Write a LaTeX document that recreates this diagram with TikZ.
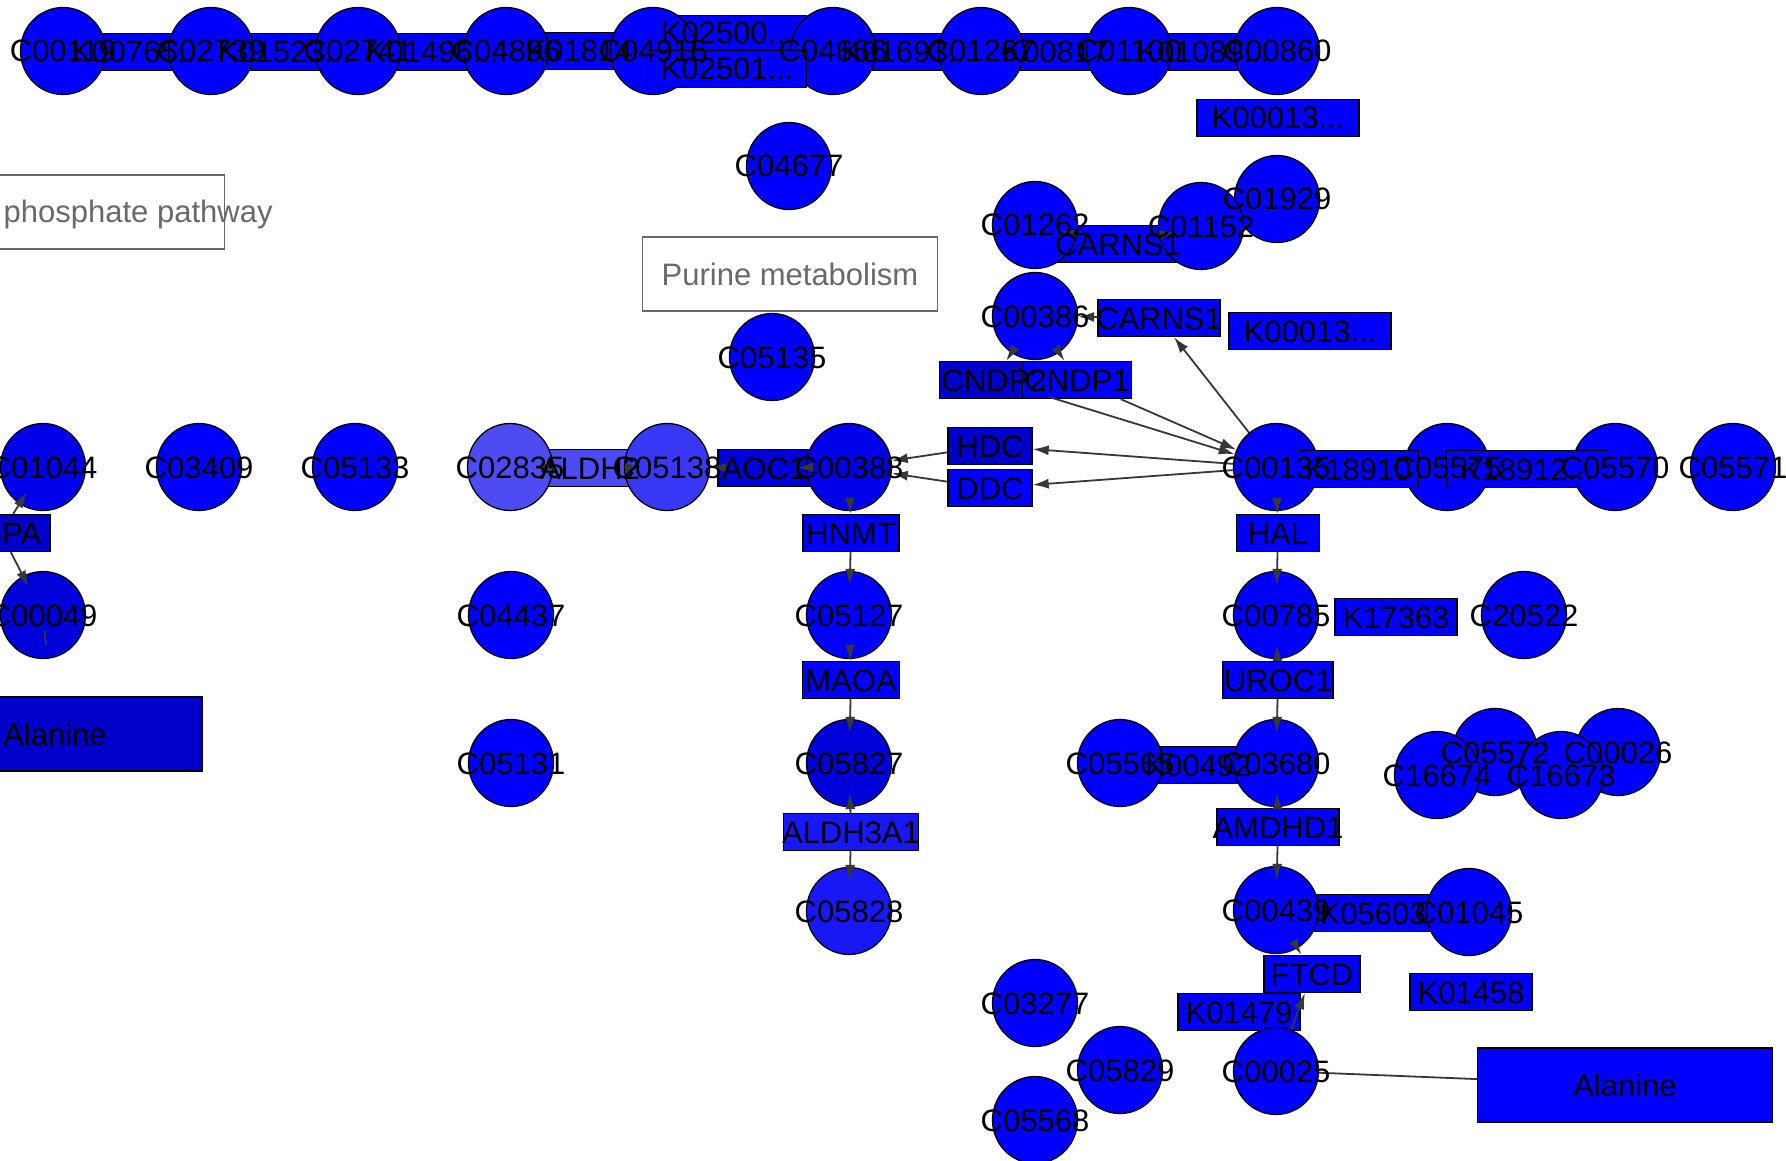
\documentclass[tikz,border=0pt]{standalone}
\usepackage{fontspec}
\setmainfont{Liberation Sans}
\usetikzlibrary{shapes.geometric,arrows.meta}

\definecolor{kblue}{RGB}{0,0,255}
\definecolor{kblueA}{RGB}{0,0,234}
\definecolor{kblueB}{RGB}{0,0,216}
\definecolor{kblueC}{RGB}{0,0,202}
\definecolor{klightA}{RGB}{76,76,242}
\definecolor{klightB}{RGB}{56,56,246}
\definecolor{klightC}{RGB}{24,24,246}
\definecolor{edgegray}{RGB}{55,55,55}
\definecolor{mapgray}{RGB}{105,105,105}

\newcommand{\kdots}{...}

\tikzset{
  cpd/.style={ellipse, draw=black, line width=1.3pt, fill=kblue,
    minimum width=85, minimum height=87, inner sep=0pt},
  gene/.style={rectangle, draw=black, line width=1.3pt, fill=kblue,
    minimum height=37, inner sep=0pt},
  mapbox/.style={rectangle, draw=mapgray, line width=1.4pt, fill=white,
    minimum width=295, minimum height=74, inner sep=0pt},
  lbl/.style={font=\fontsize{31}{31}\selectfont, inner sep=0pt,
    text height=22pt, text depth=0pt},
  edge/.style={draw=edgegray, line width=1.8pt},
  arr/.style={edge, -{Latex[length=16pt,width=10pt]}},
  arrc/.style={arr, shorten >=-14pt}
}

\begin{document}
\begin{tikzpicture}[x=1pt,y=-1pt]
\useasboundingbox (0,0) rectangle (1786,1161);
\clip (0,0) rectangle (1786,1161);

% pathway boxes
\node[mapbox] (pentose) at (77,212) {};
\node[mapbox] (purine) at (790,274) {};
\node[mapbox, draw=black, line width=1.3pt, fill=kblueC] (alal) at (55,734) {};
\node[mapbox, draw=black, line width=1.3pt, fill=kblue] (alar) at (1625,1085) {};

% genes (below the compounds)
\node[gene, minimum width=159, minimum height=35] (k02500) at (727,33) {};
\foreach \n/\x/\y/\w/\c in {
    k00765/137/52/161/kblue, k01523/284/52/161/kblue,
    k01496/432/52/161/kblue, k01814/579/51/122/kblue,
    k01693/907/52/161/kblue, k00817/1055/52/122/kblue,
    k01089/1203/52/161/kblue, k00013a/1278/118/162/kblue,
    carnsa/1118/244/120/kblue, k00013b/1310/331/162/kblue,
    carnsb/1159/318/122/kblue, cndp2/994/380/109/kblueC,
    cndp1/1077/380/109/kblue, hdc/990/446/84/kblueC,
    ddc/990/488/84/kblue, aldh2/590/468/100/klightA,
    aoc1/764/468/92/kblueB, aspa/1/533/98/kblueC,
    hnmt/851/533/96/kblue, hal/1278/533/83/kblue,
    k17363/1396/617/122/kblue, maoa/851/680/97/kblue,
    uroc1/1278/680/110/kblue, k00492/1198/765/122/kblue,
    aldh3a1/851/832/135/klightC, amdhd1/1278/827/122/kblue,
    k05603/1373/913/122/kblue, ftcd/1312/974/96/kblue,
    k01458/1471/992/122/kblue, k01479/1239/1012/122/kblue}
  \node[gene, minimum width=\w, fill=\c] (\n) at (\x,\y) {};

% compounds
\foreach \n/\x/\y/\c in {
    C00119/63/51/kblue, C02739/211/51/kblue, C02741/358/51/kblue,
    C04896/506/51/kblue, C04916/653/51/kblue, C04666/833/51/kblue,
    C01267/981/51/kblue, C01100/1129/51/kblue, C00860/1277/51/kblue,
    C04677/789/166/kblue, C01929/1277/199/kblue, C01262/1035/225/kblue,
    C01152/1201/226/kblue, C00386/1035/316/kblue, C05135/772/357/kblue,
    C01044/43/467/kblueA, C03409/199/467/kblue, C05133/355/467/kblue,
    C02835/510/467/klightA, C05138/667/467/klightB, C00388/849/467/kblueA,
    C00135/1276/467/kblue, C05575/1447/467/kblue, C05570/1615/467/kblue,
    C05571/1733/467/kblue, C00049/43/615/kblueB, C04437/511/615/kblue,
    C05127/849/615/kblue, C00785/1276/615/kblue, C20522/1524/615/kblue,
    C05131/511/763/kblue, C05827/849/763/kblueB, C05565/1120/763/kblue,
    C03680/1276/763/kblue, C05572/1495/752/kblue, C00026/1618/752/kblue,
    C16674/1437/775/kblue, C16673/1561/775/kblue, C05828/849/911/klightC,
    C00439/1276/910/kblue, C01045/1469/912/kblue, C03277/1035/1003/kblue,
    C05829/1120/1070/kblue, C00025/1276/1071/kblue, C05568/1035/1120/kblue}
  \node[cpd, fill=\c] (\n) at (\x,\y) {};

% genes drawn over the compounds
\node[gene, minimum width=159] (k02501) at (727,69) {};
\node[gene, minimum width=121] (k18910) at (1358,469) {};
\node[gene, minimum width=161] (k18912) at (1527,469) {};

% reactions
\draw[arrc] (aspa) -- (C01044);
\draw[arrc, shorten >=-12pt] (aspa) -- (C00049);
\draw[edge, shorten <=16pt, shorten >=52pt] (C00049.center) -- (alal);
\draw[arr, shorten >=33pt] (C02835) -- (aldh2.center);
\draw[arr, shorten <=40pt, shorten >=-18pt] (aldh2.center) -- (C05138);
\draw[arr] (aoc1) -- (C05138);
\draw[arr, shorten >=33pt] (C00388) -- (aoc1.center);
\draw[arr] (hdc) -- (C00388);
\draw[arr] (ddc) -- (C00388);
\draw[arr] (C00135) -- (hdc);
\draw[arr] (C00135) -- (ddc);
\draw[arr] (cndp2) -- (C00135);
\draw[arr] (cndp1) -- (C00135);
\draw[arr] (C00135) -- (carnsb);
\draw[arr] (carnsb) -- (C00386);
\draw[arr] (C00386) -- (cndp2);
\draw[arr] (C00386) -- (cndp1);
\draw[arr, shorten <=42pt, shorten >=-17pt] (carnsa.center) -- (C01262);
\draw[arr, shorten <=42pt, shorten >=-17pt] (carnsa.center) -- (C01152);
\draw[arr] (C00388) -- (hnmt);
\draw[arrc] (hnmt) -- (C05127);
\draw[arr] (C05127) -- (maoa);
\draw[arrc] (maoa) -- (C05827);
\draw[arrc] (aldh3a1) -- (C05827);
\draw[arrc] (aldh3a1) -- (C05828);
\draw[arr] (C00135) -- (hal);
\draw[arrc] (hal) -- (C00785);
\draw[arrc] (uroc1) -- (C00785);
\draw[arrc] (uroc1) -- (C03680);
\draw[arrc] (amdhd1) -- (C03680);
\draw[arrc] (amdhd1) -- (C00439);
\draw[arr] (C00439) -- (ftcd);
\draw[arr] (C00025) -- (ftcd);
\draw[edge] (C00025) -- (alar);

% labels
\node[lbl, text=mapgray] at (pentose) {Pentose phosphate pathway};
\node[lbl, text=mapgray] at (purine) {Purine metabolism};
\node[lbl] at (alal) {Alanine};
\node[lbl] at (alar) {Alanine};
\foreach \n in {C00119, C02739, C02741, C04896, C04916, C04666, C01267,
    C01100, C00860, C04677, C01929, C01262, C01152, C00386, C05135,
    C01044, C03409, C05133, C02835, C05138, C00388, C00135, C05575,
    C05570, C05571, C00049, C04437, C05127, C00785, C20522, C05131,
    C05827, C05565, C03680, C05572, C00026, C16674, C16673, C05828,
    C00439, C01045, C03277, C05829, C00025, C05568}
  \node[lbl] at (\n) {\n};
\foreach \n/\t in {k00765/K00765\kdots, k01523/K01523\kdots,
    k01496/K01496\kdots, k01814/K01814, k02500/K02500\kdots,
    k02501/K02501\kdots, k01693/K01693\kdots, k00817/K00817,
    k01089/K01089\kdots, k00013a/K00013\kdots, carnsa/CARNS1,
    k00013b/K00013\kdots, carnsb/CARNS1, cndp2/CNDP2, cndp1/CNDP1,
    hdc/HDC, ddc/DDC, aldh2/ALDH2, aoc1/AOC1, aspa/ASPA, hnmt/HNMT,
    hal/HAL, k18910/K18910, k18912/K18912\kdots, k17363/K17363,
    maoa/MAOA, uroc1/UROC1, k00492/K00492, aldh3a1/ALDH3A1,
    amdhd1/AMDHD1, k05603/K05603, ftcd/FTCD, k01458/K01458,
    k01479/K01479}
  \node[lbl] at (\n) {\t};
\end{tikzpicture}
\end{document}
